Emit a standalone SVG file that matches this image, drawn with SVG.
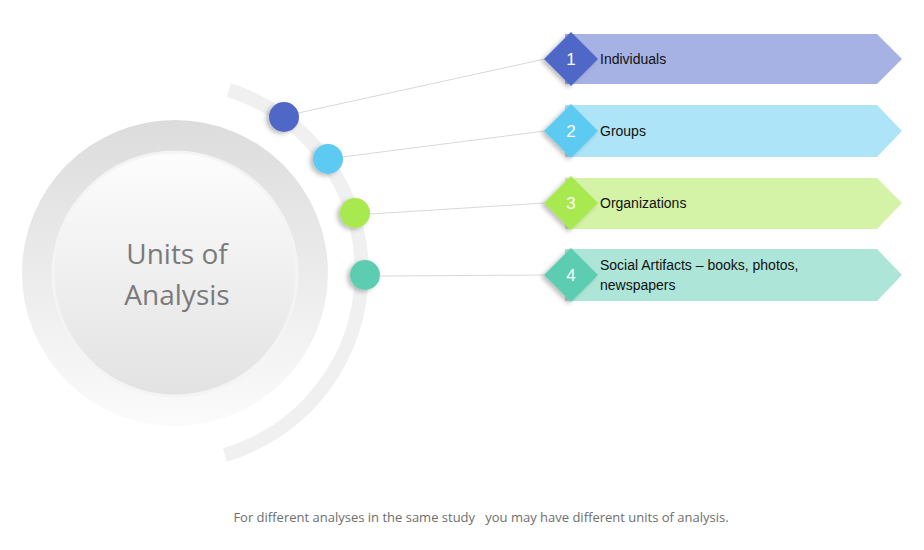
<svg xmlns="http://www.w3.org/2000/svg" width="924" height="550" viewBox="0 0 924 550">
<style>
.lbl{font-family:"Liberation Sans",Arial,sans-serif;font-size:14px;fill:#111}
.num{font-family:"Liberation Sans",Arial,sans-serif;font-size:17px;fill:#fff;text-anchor:middle}
.ln{stroke:#d8d8d8;stroke-width:1;fill:none}
</style>
<defs>
<linearGradient id="outer" x1="0" y1="0" x2="0" y2="1"><stop offset="0" stop-color="#dcdcdc"/><stop offset="1" stop-color="#fbfbfb"/></linearGradient>
<linearGradient id="inner" x1="0" y1="0" x2="0" y2="1"><stop offset="0" stop-color="#fdfdfd"/><stop offset="1" stop-color="#e2e2e2"/></linearGradient>
<filter id="sh" x="-50%" y="-50%" width="200%" height="200%"><feDropShadow dx="-3" dy="2" stdDev="3" flood-color="#000" flood-opacity="0.25"/></filter>
</defs>
<rect width="924" height="550" fill="#fff"/>
<path d="M229,90 A191,191 0 0 1 225,455" fill="none" stroke="#f0f0f0" stroke-width="14"/>
<g id="center">
<circle cx="175" cy="273" r="153" fill="url(#outer)"/>
<circle cx="175" cy="274" r="122" fill="url(#inner)" stroke="#f4f4f4" stroke-width="3"/>
<text x="177" y="264" font-family="'Open Sans','Liberation Sans',sans-serif" font-size="28" fill="#7a7a7a" text-anchor="middle">Units of</text>
<text x="177" y="305" font-family="'Open Sans','Liberation Sans',sans-serif" font-size="28" fill="#7a7a7a" text-anchor="middle">Analysis</text>
</g>
<g id="connectors">
<line class="ln" x1="298" y1="113" x2="545" y2="59"/>
<line class="ln" x1="342" y1="157" x2="545" y2="131"/>
<line class="ln" x1="370" y1="214" x2="545" y2="203"/>
<line class="ln" x1="380" y1="276" x2="545" y2="275"/>
</g>
<g id="n1">
<circle cx="284" cy="117" r="15" fill="#4f67c8" filter="url(#sh)"/>
<polygon points="565,34 877,34 902,59 877,84 565,84" fill="#a6b2e3"/>
<polygon points="571,32 598,59 571,86 544,59" fill="#4f67c8" filter="url(#sh)"/>
<text class="num" x="571" y="65">1</text>
<text class="lbl" x="600" y="64">Individuals</text>
</g>
<g id="n2">
<circle cx="328" cy="159" r="15" fill="#5bcaf1" filter="url(#sh)"/>
<polygon points="565,105 877,105 902,131 877,157 565,157" fill="#aee4f7"/>
<polygon points="571,104 598,131 571,158 544,131" fill="#5bcaf1" filter="url(#sh)"/>
<text class="num" x="571" y="137">2</text>
<text class="lbl" x="600" y="136">Groups</text>
</g>
<g id="n3">
<circle cx="355" cy="213" r="15" fill="#a8e94f" filter="url(#sh)"/>
<polygon points="565,178 877,178 902,203 877,229 565,229" fill="#d4f3a7"/>
<polygon points="571,176 598,203 571,230 544,203" fill="#a8e94f" filter="url(#sh)"/>
<text class="num" x="571" y="209">3</text>
<text class="lbl" x="600" y="208">Organizations</text>
</g>
<g id="n4">
<circle cx="365" cy="275" r="15" fill="#5ccdb0" filter="url(#sh)"/>
<polygon points="565,249 877,249 902,275 877,301 565,301" fill="#ade6d8"/>
<polygon points="571,248 598,275 571,302 544,275" fill="#5ccdb0" filter="url(#sh)"/>
<text class="num" x="571" y="281">4</text>
<text class="lbl" x="600" y="270">Social Artifacts – books, photos,</text>
<text class="lbl" x="600" y="290">newspapers</text>
</g>
<text x="481" y="522" font-family="'Open Sans','Liberation Sans',sans-serif" font-size="13" fill="#6e6e6e" text-anchor="middle" xml:space="preserve">For different analyses in the same study   you may have different units of analysis.</text>
</svg>
